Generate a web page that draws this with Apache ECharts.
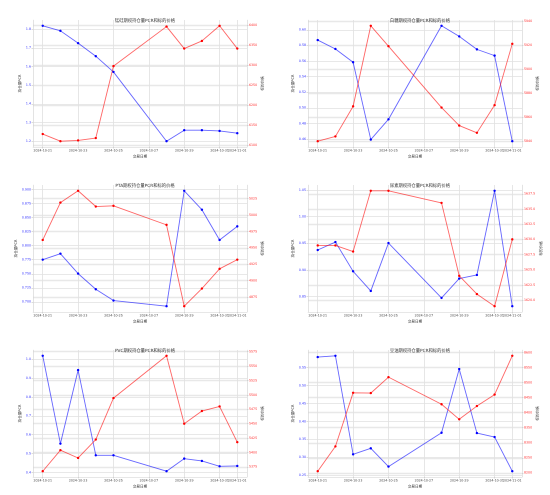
<!DOCTYPE html>
<html><head><meta charset="utf-8">
<script src="https://cdn.jsdelivr.net/npm/echarts@6/dist/echarts.min.js"></script>
<style>html,body{margin:0;padding:0;background:#fff}#c{width:550px;height:495px}</style>
</head><body><div id="c"></div>
<script>
// ---- data ----
const dates = ['2024-10-21','2024-10-22','2024-10-23','2024-10-24','2024-10-25','2024-10-28','2024-10-29','2024-10-30','2024-10-31','2024-11-01'];
const xTickDates = ['2024-10-21','2024-10-23','2024-10-25','2024-10-27','2024-10-29','2024-10-31','2024-11-01'];

const titleSM = '锰硅期权持仓量PCR和标的价格';
const pcrSM   = [1.818, 1.791, 1.725, 1.655, 1.571, 1.200, 1.259, 1.259, 1.255, 1.243];
const priceSM = [6128, 6110, 6112, 6118, 6298, 6397, 6342, 6361, 6399, 6342];
const pcrTicksSM   = [1.2, 1.3, 1.4, 1.5, 1.6, 1.7, 1.8];
const priceTicksSM = [6100, 6150, 6200, 6250, 6300, 6350, 6400];

const titleSR = '白糖期权持仓量PCR和标的价格';
const pcrSR   = [0.5868, 0.5754, 0.5584, 0.4594, 0.4853, 0.6051, 0.5915, 0.5749, 0.5669, 0.4573];
const priceSR = [5840, 5844, 5869, 5936, 5919, 5868, 5853, 5847, 5870, 5921];
const pcrTicksSR   = [0.46, 0.48, 0.50, 0.52, 0.54, 0.56, 0.58, 0.60];
const priceTicksSR = [5840, 5860, 5880, 5900, 5920, 5940];

const titleTA = 'PTA期权持仓量PCR和标的价格';
const pcrTA   = [0.7751, 0.7858, 0.7503, 0.7225, 0.7024, 0.6923, 0.8976, 0.8639, 0.8101, 0.8343];
const priceTA = [4962, 5019, 5037, 5013, 5014, 4985, 4861, 4888, 4918, 4932];
const pcrTicksTA   = [0.700, 0.725, 0.750, 0.775, 0.800, 0.825, 0.850, 0.875, 0.900];
const priceTicksTA = [4875, 4900, 4925, 4950, 4975, 5000, 5025];

const titleUR = '尿素期权持仓量PCR和标的价格';
const pcrUR   = [0.9375, 0.9525, 0.8975, 0.8606, 0.9506, 0.8475, 0.8838, 0.8906, 1.0488, 0.8319];
const priceUR = [1629, 1629, 1628, 1638, 1638, 1636, 1624, 1621, 1619, 1630];
const pcrTicksUR   = [0.85, 0.90, 0.95, 1.00, 1.05];
const priceTicksUR = [1620.0, 1622.5, 1625.0, 1627.5, 1630.0, 1632.5, 1635.0, 1637.5];

const titleV = 'PVC期权持仓量PCR和标的价格';
const pcrV   = [1.0176, 0.5528, 0.9419, 0.4912, 0.4912, 0.4070, 0.4736, 0.4613, 0.4331, 0.4349];
const priceV = [5367.5, 5404, 5390.5, 5422.5, 5494.5, 5568, 5450, 5472, 5480, 5418];
const pcrTicksV   = [0.4, 0.5, 0.6, 0.7, 0.8, 0.9, 1.0];
const priceTicksV = [5375, 5400, 5425, 5450, 5475, 5500, 5525, 5550, 5575];

const titleY = '豆油期权持仓量PCR和标的价格';
const pcrY   = [0.5796, 0.5833, 0.3083, 0.3250, 0.2740, 0.3685, 0.5463, 0.3676, 0.3565, 0.2611];
const priceY = [8205.5, 8288, 8466, 8465, 8518, 8428, 8378, 8422, 8460, 8589];
const pcrTicksY   = [0.25, 0.30, 0.35, 0.40, 0.45, 0.50, 0.55];
const priceTicksY = [8200, 8250, 8300, 8350, 8400, 8450, 8500, 8550, 8600];

const yAxisNameL = '持仓量PCR';
const yAxisNameR = '标的价格';
const xAxisName = '交易日期';

// ---- build ----
const panels = [
  {title: titleSM, pcr: pcrSM, price: priceSM, lt: pcrTicksSM, rt: priceTicksSM, ld: 1, rd: 0},
  {title: titleSR, pcr: pcrSR, price: priceSR, lt: pcrTicksSR, rt: priceTicksSR, ld: 2, rd: 0},
  {title: titleTA, pcr: pcrTA, price: priceTA, lt: pcrTicksTA, rt: priceTicksTA, ld: 3, rd: 0},
  {title: titleUR, pcr: pcrUR, price: priceUR, lt: pcrTicksUR, rt: priceTicksUR, ld: 2, rd: 1},
  {title: titleV,  pcr: pcrV,  price: priceV,  lt: pcrTicksV,  rt: priceTicksV,  ld: 1, rd: 0},
  {title: titleY,  pcr: pcrY,  price: priceY,  lt: pcrTicksY,  rt: priceTicksY,  ld: 2, rd: 0}
];

const DAY = 86400000;
const toDay = s => Date.parse(s + 'T00:00:00Z') / DAY;
const fromDay = d => new Date(Math.round(d) * DAY).toISOString().slice(0, 10);
const xs = dates.map(toDay);
const xSpan = xs[xs.length - 1] - xs[0];
const xMin = xs[0] - 0.05 * xSpan, xMax = xs[xs.length - 1] + 0.05 * xSpan;
const xTicks = xTickDates.map(toDay);
const xLabelsMain = xTicks.slice(0, -1);
const xLabelsLast = xTicks.slice(-1);

const FONT = '"DejaVu Sans", "Noto Sans CJK SC", sans-serif';
const GRIDC = '#e0e0e0';
const pad = arr => { const mn = Math.min(...arr), mx = Math.max(...arr), r = mx - mn; return [mn - 0.05 * r, mx + 0.05 * r]; };

const PW = 275, PH = 165;
const option = {backgroundColor: '#fff', animation: false, title: [], grid: [], xAxis: [], yAxis: [], series: []};
const xLabelStyle = {fontFamily: FONT, fontSize: 3.2, color: '#444', margin: 2,
                     hideOverlap: false, showMinLabel: true, showMaxLabel: true, formatter: v => fromDay(v)};

panels.forEach((p, i) => {
  const ox = (i % 2) * PW, oy = Math.floor(i / 2) * PH;
  option.grid.push({left: ox + 33, top: oy + 20, width: 214, height: 127, containLabel: false});
  option.title.push({
    text: p.title, left: ox + 140, top: oy + 13.5, textAlign: 'center',
    textStyle: {fontFamily: FONT, fontSize: 4.3, fontWeight: 'normal', color: '#333'}
  });
  option.xAxis.push({
    type: 'value', gridIndex: i, min: xMin, max: xMax,
    name: xAxisName, nameLocation: 'middle', nameGap: 8,
    nameTextStyle: {fontFamily: FONT, fontSize: 3.6, color: '#333'},
    axisLine: {show: true, lineStyle: {color: '#d0d0d0', width: 0.6}},
    axisTick: {show: true, length: 1.5, lineStyle: {color: '#bbb', width: 0.5}, customValues: xTicks},
    axisLabel: Object.assign({customValues: xLabelsMain}, xLabelStyle),
    splitLine: {show: true, lineStyle: {color: GRIDC, width: 0.8}}
  });
  const [lmin, lmax] = pad(p.pcr), [rmin, rmax] = pad(p.price);
  option.yAxis.push({
    type: 'value', gridIndex: i, position: 'left', min: lmin, max: lmax,
    name: yAxisNameL, nameLocation: 'middle', nameGap: 11, nameRotate: 90,
    nameTextStyle: {fontFamily: FONT, fontSize: 3.6, color: '#333'},
    axisLine: {show: true, lineStyle: {color: '#d0d0d0', width: 0.6}},
    axisTick: {show: true, length: 1.5, lineStyle: {color: '#bbb', width: 0.5}, customValues: p.lt},
    axisLabel: {fontFamily: FONT, fontSize: 3.2, color: '#3333ff', margin: 2, customValues: p.lt,
                showMinLabel: true, showMaxLabel: true, formatter: v => v.toFixed(p.ld)},
    splitLine: {show: true, lineStyle: {color: GRIDC, width: 0.8}}
  });
  option.yAxis.push({
    type: 'value', gridIndex: i, position: 'right', min: rmin, max: rmax,
    name: yAxisNameR, nameLocation: 'middle', nameGap: 14, nameRotate: 90,
    nameTextStyle: {fontFamily: FONT, fontSize: 3.6, color: '#333'},
    axisLine: {show: true, lineStyle: {color: '#d0d0d0', width: 0.6}},
    axisTick: {show: true, length: 1.5, lineStyle: {color: '#bbb', width: 0.5}, customValues: p.rt},
    axisLabel: {fontFamily: FONT, fontSize: 3.2, color: '#ff3333', margin: 2, customValues: p.rt,
                showMinLabel: true, showMaxLabel: true, formatter: v => v.toFixed(p.rd)},
    splitLine: {show: true, lineStyle: {color: '#e8e8e8', width: 1.4}}
  });
  option.series.push({
    type: 'line', xAxisIndex: i, yAxisIndex: 2 * i,
    data: xs.map((x, k) => [x, p.pcr[k]]),
    symbol: 'circle', symbolSize: 2.4, showSymbol: true,
    lineStyle: {color: 'rgba(0,0,255,0.6)', width: 0.9},
    itemStyle: {color: '#0000ff'}
  });
  option.series.push({
    type: 'line', xAxisIndex: i, yAxisIndex: 2 * i + 1,
    data: xs.map((x, k) => [x, p.price[k]]),
    symbol: 'circle', symbolSize: 2.4, showSymbol: true,
    lineStyle: {color: 'rgba(255,0,0,0.6)', width: 0.9},
    itemStyle: {color: '#ff0000'}
  });
});

// overlay axes carrying the last date label (drawn over the 10-31 label, as in the original)
panels.forEach((p, i) => {
  option.xAxis.push({
    type: 'value', gridIndex: i, min: xMin, max: xMax, position: 'bottom',
    axisLine: {show: false}, axisTick: {show: false}, splitLine: {show: false},
    axisLabel: Object.assign({customValues: xLabelsLast}, xLabelStyle)
  });
});

const chart = echarts.init(document.getElementById('c'), null, {renderer: 'canvas', devicePixelRatio: 2});
chart.setOption(option);
</script>
</body></html>
